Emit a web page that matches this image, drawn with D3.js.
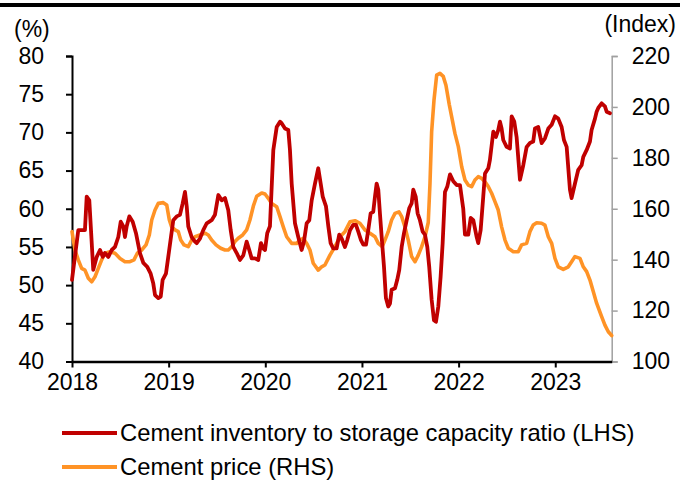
<!DOCTYPE html>
<html>
<head>
<meta charset="utf-8">
<script src="https://cdn.jsdelivr.net/npm/d3@7"></script>
<style>
  html, body { margin: 0; padding: 0; background: #fff; }
  svg { display: block; font-family: "Liberation Sans", Arial, sans-serif; }
</style>
</head>
<body>
<svg id="chart" width="680" height="481"></svg>
<script>
// Cement inventory-to-capacity ratio (%, left axis), by decimal year
const invT = [2018.000,2018.065,2018.100,2018.134,2018.152,2018.179,2018.220,2018.256,2018.290,2018.318,2018.341,2018.376,2018.411,2018.445,2018.479,2018.504,2018.531,2018.548,2018.566,2018.593,2018.628,2018.662,2018.703,2018.738,2018.779,2018.814,2018.841,2018.859,2018.893,2018.918,2018.938,2018.972,2018.996,
  2019.024,2019.048,2019.083,2019.117,2019.145,2019.169,2019.187,2019.203,2019.238,2019.273,2019.290,2019.324,2019.358,2019.394,2019.445,2019.479,2019.514,2019.549,2019.583,2019.617,2019.642,2019.669,2019.704,2019.738,2019.772,2019.807,2019.834,2019.859,2019.893,2019.927,2019.955,2019.979,2019.997,
  2020.020,2020.048,2020.083,2020.118,2020.152,2020.169,2020.204,2020.238,2020.255,2020.273,2020.307,2020.341,2020.376,2020.400,2020.428,2020.455,2020.480,2020.514,2020.548,2020.573,2020.594,2020.628,2020.652,2020.676,2020.703,2020.738,2020.765,2020.790,2020.824,2020.848,2020.876,2020.910,2020.938,2020.962,2020.990,
  2021.014,2021.042,2021.065,2021.090,2021.117,2021.135,2021.152,2021.169,2021.186,2021.204,2021.228,2021.248,2021.272,2021.290,2021.307,2021.342,2021.365,2021.386,2021.411,2021.435,2021.463,2021.490,2021.514,2021.531,2021.556,2021.576,2021.600,2021.628,2021.652,2021.676,2021.696,2021.721,2021.745,2021.766,2021.790,2021.814,2021.835,2021.859,2021.883,2021.911,2021.945,2021.980,
  2022.014,2022.048,2022.066,2022.100,2022.125,2022.152,2022.187,2022.203,2022.228,2022.255,2022.273,2022.307,2022.324,2022.359,2022.386,2022.410,2022.428,2022.445,2022.462,2022.497,2022.531,2022.549,2022.576,2022.600,2022.635,2022.669,2022.704,2022.738,2022.772,2022.790,2022.824,2022.859,2022.893,2022.928,2022.963,2022.997,
  2023.031,2023.066,2023.090,2023.118,2023.152,2023.169,2023.204,2023.238,2023.273,2023.290,2023.325,2023.359,2023.376,2023.411,2023.428,2023.445,2023.480,2023.514,2023.532,2023.566];
const invRatio = [50.7,57.2,57.2,57.2,61.6,61.1,52.0,53.7,54.6,53.7,54.2,53.7,54.6,55.0,56.3,58.3,57.7,56.3,57.7,59.0,58.3,56.8,54.2,52.9,52.4,51.5,50.2,48.7,48.3,48.5,50.7,51.5,53.7,
  56.3,58.5,59.0,59.2,60.7,62.2,60.3,57.7,56.3,55.7,55.5,56.1,57.2,58.1,58.5,59.2,61.8,61.1,61.4,59.8,57.2,55.0,54.2,53.3,53.9,55.7,54.6,53.5,53.5,53.3,55.5,54.8,54.6,
  56.8,57.7,67.7,70.7,71.4,71.2,70.5,70.3,67.7,63.3,58.1,56.3,54.6,55.7,58.1,58.5,61.1,63.3,65.3,63.3,61.6,60.3,57.7,55.5,54.8,54.8,56.6,56.1,55.0,55.9,57.2,57.9,57.9,57.0,55.9,
  55.3,55.3,57.2,59.4,59.6,61.6,63.3,62.5,59.4,56.3,52.4,48.3,47.2,47.6,49.4,49.6,50.7,52.0,55.0,56.8,58.5,60.1,60.7,62.5,61.6,59.4,58.5,57.0,56.6,55.0,52.4,48.1,45.4,45.2,47.2,51.1,55.5,62.2,62.9,64.5,63.6,63.1,
  63.1,60.0,56.6,56.6,58.8,58.5,56.3,55.5,57.2,61.6,64.6,65.3,66.4,70.1,69.4,70.3,71.4,70.5,69.0,68.1,67.9,72.1,71.4,69.4,63.8,65.7,68.1,68.6,68.8,70.5,70.7,68.6,69.2,70.5,71.0,72.1,
  71.8,70.7,69.0,68.1,62.5,61.4,63.3,65.1,65.7,66.8,67.7,68.8,70.3,71.8,72.7,73.2,73.8,73.4,72.7,72.5];

// Cement price index (right axis), by decimal year
const priceT = [2018.000,2018.031,2018.065,2018.100,2018.134,2018.169,2018.204,2018.238,2018.272,2018.307,2018.341,2018.393,2018.445,2018.497,2018.548,2018.600,2018.641,2018.676,2018.721,2018.766,2018.800,2018.825,2018.859,2018.893,2018.945,2018.980,
  2019.007,2019.031,2019.066,2019.100,2019.125,2019.159,2019.203,2019.238,2019.273,2019.324,2019.376,2019.410,2019.445,2019.490,2019.538,2019.583,2019.617,2019.652,2019.686,2019.720,2019.766,2019.807,2019.841,2019.876,2019.911,2019.963,2019.997,
  2020.031,2020.066,2020.118,2020.152,2020.186,2020.221,2020.273,2020.325,2020.359,2020.393,2020.428,2020.462,2020.496,2020.548,2020.583,2020.617,2020.669,2020.721,2020.773,2020.824,2020.876,2020.928,2020.979,
  2021.031,2021.083,2021.135,2021.169,2021.210,2021.238,2021.272,2021.307,2021.342,2021.383,2021.411,2021.445,2021.479,2021.514,2021.549,2021.583,2021.618,2021.652,2021.686,2021.704,2021.721,2021.745,2021.773,2021.807,2021.841,2021.869,2021.903,2021.928,2021.962,2021.997,
  2022.032,2022.066,2022.100,2022.135,2022.169,2022.203,2022.239,2022.273,2022.307,2022.342,2022.376,2022.410,2022.445,2022.480,2022.514,2022.566,2022.617,2022.652,2022.704,2022.738,2022.772,2022.808,2022.859,2022.893,2022.928,2022.963,2022.997,
  2023.031,2023.083,2023.135,2023.169,2023.204,2023.256,2023.290,2023.325,2023.359,2023.394,2023.428,2023.480,2023.514,2023.549,2023.584];
const priceIdx = [151.0,143.8,139.9,136.6,135.9,132.7,131.3,133.3,136.6,139.9,142.5,143.1,142.5,140.5,139.2,139.2,139.9,142.5,143.8,145.8,149.7,155.6,159.5,162.1,162.4,161.5,
  155.6,152.9,151.7,151.0,147.7,145.8,145.1,147.7,149.0,149.7,150.4,149.7,147.7,145.8,144.5,143.8,143.8,145.1,147.1,148.4,149.7,151.7,155.6,161.0,164.9,166.2,165.8,
  164.1,162.1,160.8,156.9,152.9,149.0,146.4,146.4,147.7,148.4,146.4,143.8,138.6,135.9,137.2,137.9,141.8,145.1,149.0,151.0,154.9,155.3,154.3,
  151.7,150.4,149.0,146.4,145.1,147.7,151.0,155.6,158.2,158.8,156.9,152.9,147.7,141.2,139.2,141.8,145.1,149.0,154.6,170.0,190.2,202.5,212.5,213.2,212.0,208.5,201.0,196.2,189.6,184.4,
  176.5,171.3,169.3,168.7,171.3,172.6,171.9,170.6,168.7,166.1,162.8,159.5,152.9,147.7,144.5,143.1,143.1,145.8,146.4,151.0,153.6,154.5,154.3,153.6,149.0,146.4,140.5,
  137.2,136.2,137.2,139.2,141.2,140.5,137.2,135.3,132.0,127.4,122.9,117.6,114.3,111.7,110.2];

const years = [2018, 2019, 2020, 2021, 2022, 2023];
const leftTicks = [40, 45, 50, 55, 60, 65, 70, 75, 80];
const rightTicks = [100, 120, 140, 160, 180, 200, 220];
const seriesNames = ["Cement inventory to storage capacity ratio (LHS)", "Cement price (RHS)"];
const seriesColors = ["#C00000", "#FF9326"];

const svg = d3.select("#chart");
const fontSize = 23;
const legendFontSize = 23.8;
const plot = { left: 72, right: 611.7, top: 56, bottom: 361.5 };

const x = d3.scaleLinear().domain([2018, 2023.584]).range([plot.left, plot.right]);
const yL = d3.scaleLinear().domain([40, 80]).range([plot.bottom, plot.top]);
const yR = d3.scaleLinear().domain([100, 220]).range([plot.bottom, plot.top]);

// heavy rule along the top edge
svg.append("rect").attr("x", 0).attr("y", 3).attr("width", 680).attr("height", 4).attr("fill", "#000");

// left axis
const gL = svg.append("g").attr("transform", `translate(${plot.left},0)`)
  .call(d3.axisLeft(yL).tickValues(leftTicks).tickSize(6).tickPadding(22));
gL.select(".domain").attr("stroke", "#000").attr("stroke-width", 2);
gL.selectAll(".tick line").attr("stroke", "#000").attr("stroke-width", 2);
gL.selectAll("text").attr("font-size", fontSize).attr("fill", "#000").attr("font-family", "Liberation Sans, Arial, sans-serif");

// right axis
const gR = svg.append("g").attr("transform", `translate(${plot.right},0)`)
  .call(d3.axisRight(yR).tickValues(rightTicks).tickSize(6).tickPadding(14));
gR.select(".domain").attr("stroke", "#a0a0a0").attr("stroke-width", 1.5);
gR.selectAll(".tick line").attr("stroke", "#a0a0a0").attr("stroke-width", 1.5);
gR.selectAll("text").attr("font-size", fontSize).attr("fill", "#000").attr("font-family", "Liberation Sans, Arial, sans-serif");

// series
const lineL = d3.line().x((d, i) => x(invT[i])).y(d => yL(d)).curve(d3.curveLinear);
const lineR = d3.line().x((d, i) => x(priceT[i])).y(d => yR(d)).curve(d3.curveLinear);

svg.append("path").datum(priceIdx).attr("d", lineR)
  .attr("fill", "none").attr("stroke", seriesColors[1]).attr("stroke-width", 3.6)
  .attr("stroke-linejoin", "round").attr("stroke-linecap", "round");
svg.append("path").datum(invRatio).attr("d", lineL)
  .attr("fill", "none").attr("stroke", seriesColors[0]).attr("stroke-width", 3.8)
  .attr("stroke-linejoin", "round").attr("stroke-linecap", "round");

// bottom axis
const gX = svg.append("g").attr("transform", `translate(0,${plot.bottom})`)
  .call(d3.axisBottom(x).tickValues(years).tickFormat(d3.format("d")).tickSize(6).tickPadding(6).tickSizeOuter(0));
gX.select(".domain").attr("stroke", "#000").attr("stroke-width", 2.5);
gX.selectAll(".tick line").attr("stroke", "#000").attr("stroke-width", 2);
gX.selectAll("text").attr("font-size", fontSize).attr("fill", "#000").attr("font-family", "Liberation Sans, Arial, sans-serif");

// axis units
svg.append("text").attr("x", 14).attr("y", 37).attr("font-size", fontSize).text("(%)");
svg.append("text").attr("x", 676).attr("y", 32).attr("font-size", fontSize).attr("text-anchor", "end").text("(Index)");

// legend
const legend = svg.append("g");
seriesNames.forEach((name, i) => {
  const ly = 433 + i * 34;
  legend.append("line").attr("x1", 62).attr("x2", 117).attr("y1", ly).attr("y2", ly)
    .attr("stroke", seriesColors[i]).attr("stroke-width", 4);
  legend.append("text").attr("x", 120).attr("y", ly + 8).attr("font-size", legendFontSize).text(name);
});
</script>
</body>
</html>
